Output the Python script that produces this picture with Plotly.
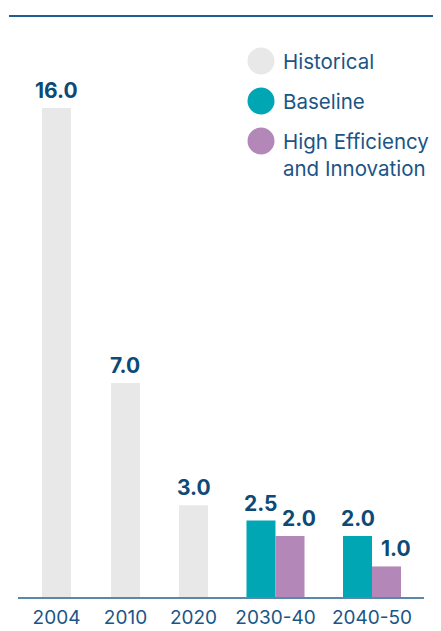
import plotly.graph_objects as go

# ---- data ----
categories = ["2004", "2010", "2020", "2030-40", "2040-50"]
historical_cats = ["2004", "2010", "2020"]
historical_vals = [16.0, 7.0, 3.0]
projection_cats = ["2030-40", "2040-50"]
baseline_vals = [2.5, 2.0]
high_eff_vals = [2.0, 1.0]
series_names = ["Historical", "Baseline", "High Efficiency<br>and Innovation"]

# ---- layout helpers (positions of categories on a numeric axis) ----
cat_pos = {"2004": 0.0, "2010": 1.007, "2020": 2.0, "2030-40": 3.197, "2040-50": 4.606}
BW = 0.4234

C_HIST = "#e8e8e8"
C_BASE = "#00a6b4"
C_HIGH = "#b388b8"
C_VAL = "#0d4a75"
C_TXT = "#1b5585"

# page has an 8px body margin; figure coordinates = page coordinates - 8
OFF = 8
W, H = 441 - OFF, 631 - OFF
ML, MR, MT, MB = 10, 17, 8, 34
PW = W - ML - MR
PH = H - MT - MB
UNIT_PX = 68.5
X0_PX = 48.5  # figure px of first category centre


def px_x(p):  # page px -> paper
    return (p - OFF - ML) / PW


def px_y(p):
    return (H - MB - (p - OFF)) / PH


fig = go.Figure()
fig.add_trace(go.Bar(x=[cat_pos[c] for c in historical_cats], y=historical_vals,
                     width=BW, marker=dict(color=C_HIST, line=dict(width=0)),
                     name=series_names[0], showlegend=False))
fig.add_trace(go.Bar(x=[cat_pos[c] for c in projection_cats], y=baseline_vals,
                     width=BW, offset=-BW, marker=dict(color=C_BASE, line=dict(width=0)),
                     name=series_names[1], showlegend=False))
fig.add_trace(go.Bar(x=[cat_pos[c] for c in projection_cats], y=high_eff_vals,
                     width=BW, offset=0, marker=dict(color=C_HIGH, line=dict(width=0)),
                     name=series_names[2], showlegend=False))

annotations = []
vfont = dict(family="Inter, sans-serif", size=21, color=C_VAL, weight="bold")
for c, v in zip(historical_cats, historical_vals):
    annotations.append(dict(x=cat_pos[c], y=v, text=f"<b>{v:.1f}</b>", showarrow=False,
                            yanchor="bottom", xanchor="center", yshift=3, font=vfont))
for c, v in zip(projection_cats, baseline_vals):
    annotations.append(dict(x=cat_pos[c] - BW / 2, y=v, text=f"<b>{v:.1f}</b>", showarrow=False,
                            yanchor="bottom", xanchor="center", yshift=3, font=vfont))
for c, v in zip(projection_cats, high_eff_vals):
    annotations.append(dict(x=cat_pos[c] + BW / 2, y=v, text=f"<b>{v:.1f}</b>", showarrow=False,
                            yanchor="bottom", xanchor="center", yshift=3, xshift=9, font=vfont))

# legend (drawn manually for large circular swatches)
leg_colors = [C_HIST, C_BASE, C_HIGH]
leg_y = [61, 101, 141]
shapes = []
lfont = dict(family="Inter, sans-serif", size=20.5, color=C_TXT)
for name, col, yy in zip(series_names, leg_colors, leg_y):
    shapes.append(dict(type="circle", xref="paper", yref="paper", xsizemode="pixel", ysizemode="pixel",
                       xanchor=px_x(261), yanchor=px_y(yy), x0=-13.5, x1=13.5, y0=-13.5, y1=13.5,
                       fillcolor=col, line=dict(width=0)))
    annotations.append(dict(xref="paper", yref="paper", x=px_x(281), y=px_y(yy - 14),
                            text=name, showarrow=False, xanchor="left", yanchor="top",
                            align="left", font=lfont))

# top rule
shapes.append(dict(type="line", xref="paper", yref="paper", x0=px_x(9), x1=px_x(445),
                   y0=px_y(16), y1=px_y(16), line=dict(color="#1f5f96", width=2)))

fig.update_layout(
    width=W, height=H,
    margin=dict(l=ML, r=MR, t=MT, b=MB, pad=0, autoexpand=False),
    paper_bgcolor="white", plot_bgcolor="white",
    barmode="overlay",
    showlegend=False,
    xaxis=dict(range=[(ML - X0_PX) / UNIT_PX, (W - MR - X0_PX) / UNIT_PX], automargin=False,
               tickmode="array", tickvals=[cat_pos[c] for c in categories], ticktext=categories,
               showgrid=False, zeroline=False, showline=True, linecolor="#5a88a8", linewidth=2,
               ticks="outside", ticklen=2, tickcolor="rgba(0,0,0,0)",
               tickfont=dict(family="Inter, sans-serif", size=19, color=C_TXT)),
    yaxis=dict(range=[0, PH / 30.56], showgrid=False, zeroline=False, showticklabels=False,
               showline=False, automargin=False),
    annotations=annotations,
    shapes=shapes,
)

fig.write_html("out.html")
